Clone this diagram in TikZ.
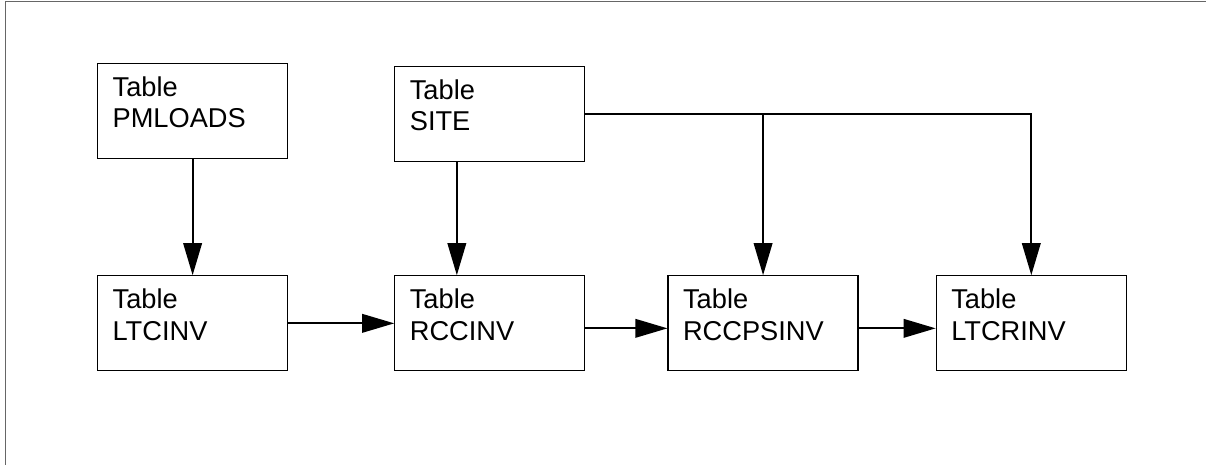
\documentclass[tikz,border=0pt]{standalone}
\usepackage{fontspec}
\setmainfont{Liberation Sans}
\usetikzlibrary{arrows.meta, positioning, calc}
\newcommand{\tblbox}[1]{\parbox[t][1.38cm][t]{3.2cm}{Table\\#1}}

\begin{document}
\begin{tikzpicture}[
    table/.style={rectangle, draw, line width=0.7pt, inner xsep=0.3cm, inner ysep=0.26cm, font=\fontsize{15.5}{17.9}\selectfont},
    arrow/.style={->, >={Triangle[length=6.4mm, width=3.7mm]}, line width=1.1pt},
    frame/.style={draw=black!60, line width=0.85pt}
]
    \useasboundingbox (0,0) rectangle (24.12,-9.3);

    % Page frame
    \coordinate (framebl) at (0.11,-9.3);
    \coordinate (frametr) at (24.12,-0.03);
    \draw[frame] (framebl) |- (frametr);

    % Source table and inventory tables
    \node[table, anchor=north west] (pmloads) at (1.94,-1.26) {\tblbox{PMLOADS}};
    \node[table, below=2.32cm of pmloads] (ltcinv) {\tblbox{LTCINV}};
    \node[table, right=2.12cm of ltcinv] (rccinv) {\tblbox{RCCINV}};
    \node[table, right=1.64cm of rccinv] (rccpsinv) {\tblbox{RCCPSINV}};
    \node[table, right=1.54cm of rccpsinv] (ltcrinv) {\tblbox{LTCRINV}};

    % Site table
    \node[table, above=2.26cm of rccinv] (site) {\tblbox{SITE}};

    % Vertical dependencies
    \draw[arrow] (pmloads.south) -- (ltcinv.north);
    \draw[arrow] ([xshift=-0.66cm]site.south) -- ([xshift=-0.66cm]rccinv.north);
    \draw[arrow] (site.east) -| (ltcrinv.north);
    \draw[arrow] (site.east -| rccpsinv.north) -- (rccpsinv.north);

    % Horizontal dependencies
    \draw[arrow] (ltcinv.east) -- (rccinv.west);
    \draw[arrow] ([yshift=-0.1cm]rccinv.east) -- ([yshift=-0.1cm]rccpsinv.west);
    \draw[arrow] ([yshift=-0.1cm]rccpsinv.east) -- ([yshift=-0.1cm]ltcrinv.west);

\end{tikzpicture}
\end{document}
